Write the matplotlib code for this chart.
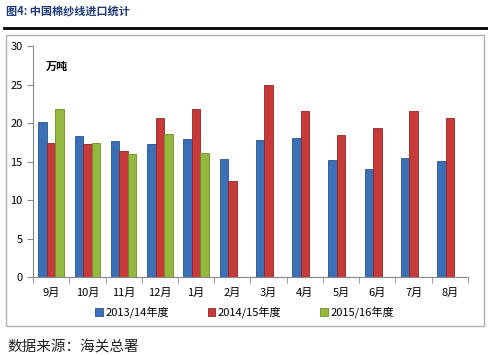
import numpy as np
import matplotlib.pyplot as plt
from matplotlib.patches import Rectangle
from matplotlib.lines import Line2D

plt.rcParams['font.family'] = ['Noto Sans CJK SC', 'DejaVu Sans']

months = ["9月", "10月", "11月", "12月", "1月", "2月", "3月", "4月", "5月", "6月", "7月", "8月"]
s2013 = [20.1, 18.3, 17.7, 17.3, 17.9, 15.3, 17.8, 18.1, 15.2, 14.0, 15.5, 15.1]
s2014 = [17.4, 17.3, 16.4, 20.6, 21.8, 12.5, 24.9, 21.6, 18.4, 19.3, 21.6, 20.7]
s2015 = [21.8, 17.4, 16.0, 18.6, 16.1, np.nan, np.nan, np.nan, np.nan, np.nan, np.nan, np.nan]
series_names = ["2013/14年度", "2014/15年度", "2015/16年度"]
colors = ["#3b6fb6", "#c63a3a", "#94b93f"]
edges = ["#2a538c", "#8f2626", "#6e8a2c"]

fig = plt.figure(figsize=(4.89, 3.55), dpi=100)

# title and rule
fig.text(0.012, 0.966, "图4: 中国棉纱线进口统计", fontsize=8, fontweight="bold",
         color="#1f3a78", va="center", ha="left")
fig.add_artist(Line2D([0.008, 1.0], [0.921, 0.921], color="black", lw=2))

# chart frame
fig.add_artist(Rectangle((0.012, 0.082), 0.977, 0.820, transform=fig.transFigure,
                         fill=False, edgecolor="#b0b0b0", lw=1))

ax = fig.add_axes([0.0675, 0.2197, 0.8895, 0.6506])
x = np.arange(len(months))
w = 0.235
for i, (vals, name) in enumerate(zip([s2013, s2014, s2015], series_names)):
    ax.bar(x + (i - 1) * w, vals, width=w, color=colors[i], edgecolor=edges[i],
           linewidth=0.6, label=name)

ax.set_xlim(-0.5, len(months) - 0.5)
ax.set_ylim(0, 30)
ax.set_yticks(range(0, 31, 5))
ax.set_xticks(x)
ax.set_xticklabels(months)
ax.set_xticks(np.arange(-0.5, len(months)), minor=True)
ax.tick_params(axis="x", which="major", length=0, labelsize=8, pad=8)
ax.tick_params(axis="x", which="minor", length=4, color="#888888")
ax.tick_params(axis="y", length=4, color="#888888", labelsize=8)
for side in ["top", "right"]:
    ax.spines[side].set_visible(False)
for side in ["left", "bottom"]:
    ax.spines[side].set_color("#888888")

ax.text(0.03, 0.91, "万吨", transform=ax.transAxes, fontsize=8, fontweight="bold",
        va="center", ha="left")

fig.legend(loc="center", bbox_to_anchor=(0.5, 0.12), ncol=3, frameon=False,
           fontsize=8, handlelength=0.7, handleheight=0.7, handletextpad=0.2,
           columnspacing=3.5)

fig.text(0.016, 0.022, "数据来源：海关总署", fontsize=10.5, va="center", ha="left",
         color="#222222")

fig.savefig("out.png", dpi=100)
